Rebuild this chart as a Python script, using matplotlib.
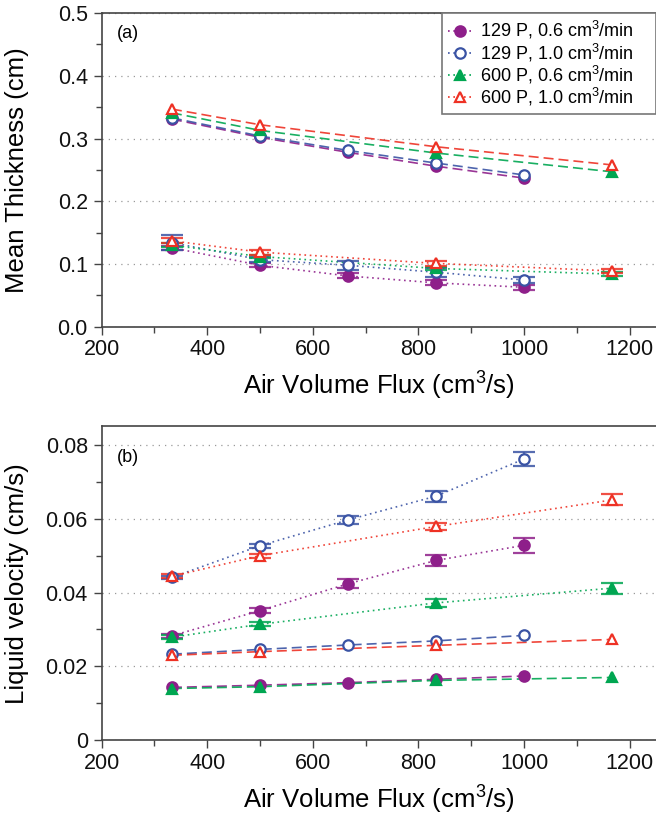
import matplotlib
matplotlib.use("Agg")
import matplotlib.pyplot as plt
from matplotlib.ticker import MultipleLocator
from matplotlib.lines import Line2D

plt.rcParams['font.family'] = ['Liberation Sans', 'DejaVu Sans']
plt.rcParams['mathtext.default'] = 'regular'

# air volume flux (cm^3/s) for the two oil viscosities
x_129 = [333, 500, 667, 833, 1000]
x_600 = [333, 500, 833, 1167]

labels = ['129 P, 0.6 cm$^3$/min', '129 P, 1.0 cm$^3$/min',
          '600 P, 0.6 cm$^3$/min', '600 P, 1.0 cm$^3$/min']

# (a) mean thickness, upper (dashed) branch
thick_hi_129_06 = [0.331, 0.302, 0.278, 0.256, 0.237]
thick_hi_129_10 = [0.333, 0.304, 0.281, 0.261, 0.242]
thick_hi_600_06 = [0.341, 0.313, 0.277, 0.247]
thick_hi_600_10 = [0.347, 0.322, 0.287, 0.258]

# (a) mean thickness, lower (dotted) branch with errors
thick_lo_129_06 = [0.126, 0.098, 0.081, 0.070, 0.063]
thick_lo_129_06_err = [0.003, 0.003, 0.004, 0.004, 0.004]
thick_lo_129_10 = [0.134, 0.107, 0.098, 0.087, 0.0745]
thick_lo_129_10_err = [0.012, 0.004, 0.007, 0.007, 0.005]
thick_lo_600_06 = [0.130, 0.112, 0.093, 0.084]
thick_lo_600_06_err = [0.003, 0.003, 0.003, 0.003]
thick_lo_600_10 = [0.137, 0.119, 0.101, 0.089]
thick_lo_600_10_err = [0.004, 0.004, 0.004, 0.003]

# (b) liquid velocity, upper (dotted) branch with errors
vel_hi_129_06 = [0.0283, 0.0351, 0.0424, 0.0487, 0.0528]
vel_hi_129_06_err = [0.0006, 0.0006, 0.0012, 0.0015, 0.0021]
vel_hi_129_10 = [0.0441, 0.0527, 0.0597, 0.0661, 0.0762]
vel_hi_129_10_err = [0.0005, 0.0005, 0.0010, 0.0015, 0.0020]
vel_hi_600_06 = [0.0279, 0.0314, 0.0372, 0.0412]
vel_hi_600_06_err = [0.0005, 0.0005, 0.0010, 0.0015]
vel_hi_600_10 = [0.0444, 0.0500, 0.0579, 0.0651]
vel_hi_600_10_err = [0.0005, 0.0005, 0.0010, 0.0015]

# (b) liquid velocity, lower (dashed) branch
vel_lo_129_06 = [0.0143, 0.0149, 0.0156, 0.0165, 0.0174]
vel_lo_129_10 = [0.0233, 0.0246, 0.0258, 0.0269, 0.0284]
vel_lo_600_06 = [0.0140, 0.0145, 0.0162, 0.0170]
vel_lo_600_10 = [0.0230, 0.0240, 0.0257, 0.0273]

purple = '#8E1F8A'
blue = '#3A53A4'
green = '#00A651'
red = '#EE3124'
styles = [
    dict(color=purple, marker='o', mfc=purple),
    dict(color=blue, marker='o', mfc='white'),
    dict(color=green, marker='^', mfc=green),
    dict(color=red, marker='^', mfc='white'),
]
dashed = (0, (6, 3))
dotted = (0, (1, 2.2))
spine_col = '#444444'
MS = 7.5


def draw_set(ax, xs, ys, errs, ls):
    for x, y, e, st in zip(xs, ys, errs, styles):
        c = st['color']
        if e is not None:
            ax.errorbar(x, y, yerr=e, fmt='none', ecolor=c, elinewidth=1.2,
                        capsize=8, capthick=1.6, alpha=0.85, zorder=3)
        ax.plot(x, y, ls=ls, lw=1.2, color=c, alpha=0.9, zorder=2)
        ax.plot(x, y, ls='none', marker=st['marker'], ms=MS,
                mfc=st['mfc'], mec=c, mew=1.6, zorder=4)


def style_axes(ax, ymax, major, minor, panel, panel_y):
    ax.set_xlim(200, 1250)
    ax.set_ylim(0, ymax)
    ax.xaxis.set_major_locator(MultipleLocator(200))
    ax.xaxis.set_minor_locator(MultipleLocator(100))
    ax.yaxis.set_major_locator(MultipleLocator(major))
    ax.yaxis.set_minor_locator(MultipleLocator(minor))
    ax.tick_params(which='both', direction='out', colors=spine_col,
                   labelcolor='#111111', labelsize=15.5)
    ax.tick_params(which='major', length=6, width=1)
    ax.tick_params(which='minor', length=4, width=1)
    ax.tick_params(axis='x', pad=3)
    ax.tick_params(axis='y', pad=4)
    for s in ['left', 'bottom', 'top']:
        ax.spines[s].set_color(spine_col)
        ax.spines[s].set_linewidth(1.2)
    ax.spines['right'].set_visible(False)
    ax.yaxis.grid(True, ls=(0, (1, 4)), color='#999999', lw=0.9)
    ax.set_axisbelow(True)
    ax.set_xlabel('Air Volume Flux (cm$^3$/s)', fontsize=18.5, labelpad=7)
    ax.yaxis.set_label_coords(-0.131, 0.5)
    ax.text(0.028, panel_y, panel, transform=ax.transAxes, fontsize=13,
            va='center', ha='left')


fig = plt.figure(figsize=(6.56, 8.17), dpi=100)
ax1 = fig.add_axes([0.155, 0.600, 0.845, 0.384])
ax2 = fig.add_axes([0.155, 0.094, 0.845, 0.384])

xs = [x_129, x_129, x_600, x_600]

draw_set(ax1, xs, [thick_hi_129_06, thick_hi_129_10, thick_hi_600_06, thick_hi_600_10],
         [None] * 4, dashed)
draw_set(ax1, xs, [thick_lo_129_06, thick_lo_129_10, thick_lo_600_06, thick_lo_600_10],
         [thick_lo_129_06_err, thick_lo_129_10_err, thick_lo_600_06_err, thick_lo_600_10_err],
         dotted)
ax1.set_ylabel('Mean Thickness (cm)', fontsize=18.5)
style_axes(ax1, 0.5, 0.1, 0.05, '(a)', 0.936)
ax1.yaxis.set_major_formatter(plt.FormatStrFormatter('%.1f'))

handles = [Line2D([], [], ls=dotted, lw=1.2, color=st['color'], marker=st['marker'],
                  ms=MS, mfc=st['mfc'], mec=st['color'], mew=1.6) for st in styles]
leg = ax1.legend(handles, [s + '    ' for s in labels], loc='upper right',
                 fontsize=13, frameon=True, fancybox=False, borderaxespad=0,
                 handlelength=1.3, handletextpad=0.45, labelspacing=0.0,
                 borderpad=0.35, framealpha=1)
leg.get_frame().set_edgecolor('#777777')
leg.get_frame().set_linewidth(1.2)

draw_set(ax2, xs, [vel_hi_129_06, vel_hi_129_10, vel_hi_600_06, vel_hi_600_10],
         [vel_hi_129_06_err, vel_hi_129_10_err, vel_hi_600_06_err, vel_hi_600_10_err],
         dotted)
draw_set(ax2, xs, [vel_lo_129_06, vel_lo_129_10, vel_lo_600_06, vel_lo_600_10],
         [None] * 4, dashed)
ax2.set_ylabel('Liquid velocity (cm/s)', fontsize=18.5)
style_axes(ax2, 0.085, 0.02, 0.01, '(b)', 0.9)
ax2.yaxis.set_major_formatter(plt.FuncFormatter(lambda v, p: '0' if v == 0 else '%.2f' % v))

fig.savefig('out.png', dpi=100)
